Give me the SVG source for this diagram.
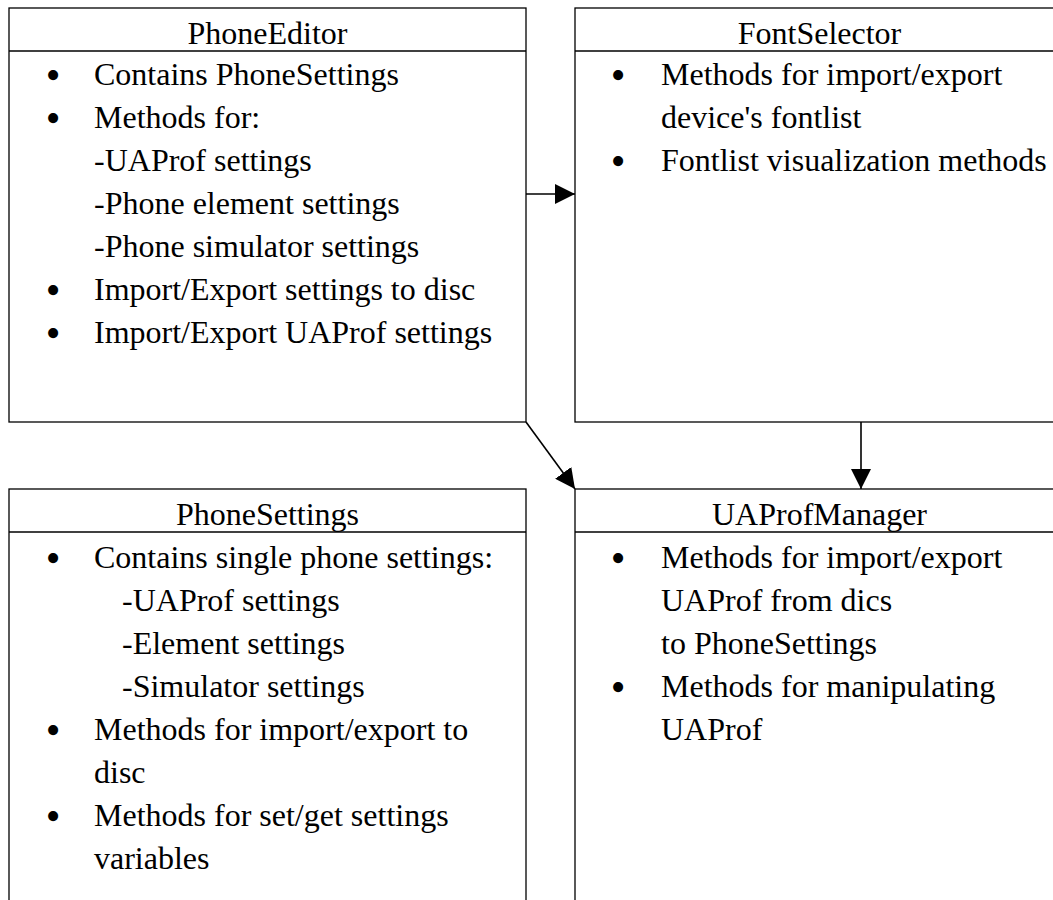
<svg xmlns="http://www.w3.org/2000/svg" width="1053" height="900" viewBox="0 0 1053 900">
  <style>
    .box { fill: #ffffff; stroke: #000000; stroke-width: 1.3; }
    .sep { stroke: #000000; stroke-width: 1.3; }
    .title { font-family: "Liberation Serif", "Times New Roman", serif; font-size: 32px; fill: #000; text-anchor: middle; }
    .item { font-family: "Liberation Serif", "Times New Roman", serif; font-size: 32px; fill: #000; }
    .dot { font-family: "Liberation Serif", "Times New Roman", serif; font-size: 42px; fill: #000; text-anchor: middle; }
    .link { stroke: #000000; stroke-width: 1.6; fill: none; marker-end: url(#head); }
  </style>
  <defs>
    <marker id="head" markerUnits="userSpaceOnUse" markerWidth="20" markerHeight="20" refX="20" refY="10" orient="auto">
      <path d="M0,0 L20,10 L0,20 z" fill="#000000"/>
    </marker>
  </defs>
  <rect width="1053" height="900" fill="#ffffff"/>

  <!-- PhoneEditor -->
  <g id="phone-editor">
    <rect class="box" x="9" y="8" width="517" height="414"/>
    <line class="sep" x1="9" y1="51" x2="526" y2="51"/>
    <text class="title" x="267.5" y="44">PhoneEditor</text>
    <text class="dot" x="53" y="89">•</text>
    <text class="item" x="94" y="85">Contains PhoneSettings</text>
    <text class="dot" x="53" y="132">•</text>
    <text class="item" x="94" y="128">Methods for:</text>
    <text class="item" x="94" y="171">-UAProf settings</text>
    <text class="item" x="94" y="214">-Phone element settings</text>
    <text class="item" x="94" y="257">-Phone simulator settings</text>
    <text class="dot" x="53" y="304">•</text>
    <text class="item" x="94" y="300">Import/Export settings to disc</text>
    <text class="dot" x="53" y="347">•</text>
    <text class="item" x="94" y="343">Import/Export UAProf settings</text>
  </g>

  <!-- FontSelector -->
  <g id="font-selector">
    <rect class="box" x="575" y="8" width="489" height="414"/>
    <line class="sep" x1="575" y1="51" x2="1064" y2="51"/>
    <text class="title" x="819.5" y="44">FontSelector</text>
    <text class="dot" x="618" y="89">•</text>
    <text class="item" x="661" y="85">Methods for import/export</text>
    <text class="item" x="661" y="128">device's fontlist</text>
    <text class="dot" x="618" y="175">•</text>
    <text class="item" x="661" y="171">Fontlist visualization methods</text>
  </g>

  <!-- PhoneSettings -->
  <g id="phone-settings">
    <rect class="box" x="9" y="489" width="517" height="430"/>
    <line class="sep" x1="9" y1="532" x2="526" y2="532"/>
    <text class="title" x="267.5" y="525">PhoneSettings</text>
    <text class="dot" x="53" y="572">•</text>
    <text class="item" x="94" y="568">Contains single phone settings:</text>
    <text class="item" x="122" y="611">-UAProf settings</text>
    <text class="item" x="122" y="654">-Element settings</text>
    <text class="item" x="122" y="697">-Simulator settings</text>
    <text class="dot" x="53" y="744">•</text>
    <text class="item" x="94" y="740">Methods for import/export to</text>
    <text class="item" x="94" y="783">disc</text>
    <text class="dot" x="53" y="830">•</text>
    <text class="item" x="94" y="826">Methods for set/get settings</text>
    <text class="item" x="94" y="869">variables</text>
  </g>

  <!-- UAProfManager -->
  <g id="uaprof-manager">
    <rect class="box" x="575" y="489" width="489" height="430"/>
    <line class="sep" x1="575" y1="532" x2="1064" y2="532"/>
    <text class="title" x="819.5" y="525">UAProfManager</text>
    <text class="dot" x="618" y="572">•</text>
    <text class="item" x="661" y="568">Methods for import/export</text>
    <text class="item" x="661" y="611">UAProf from dics</text>
    <text class="item" x="661" y="654">to PhoneSettings</text>
    <text class="dot" x="618" y="701">•</text>
    <text class="item" x="661" y="697">Methods for manipulating</text>
    <text class="item" x="661" y="740">UAProf</text>
  </g>

  <!-- connectors -->
  <g id="connectors">
    <line class="link" x1="526" y1="194" x2="575" y2="194"/>
    <line class="link" x1="526" y1="422" x2="575" y2="489"/>
    <line class="link" x1="861" y1="422" x2="861" y2="489"/>
  </g>
</svg>
